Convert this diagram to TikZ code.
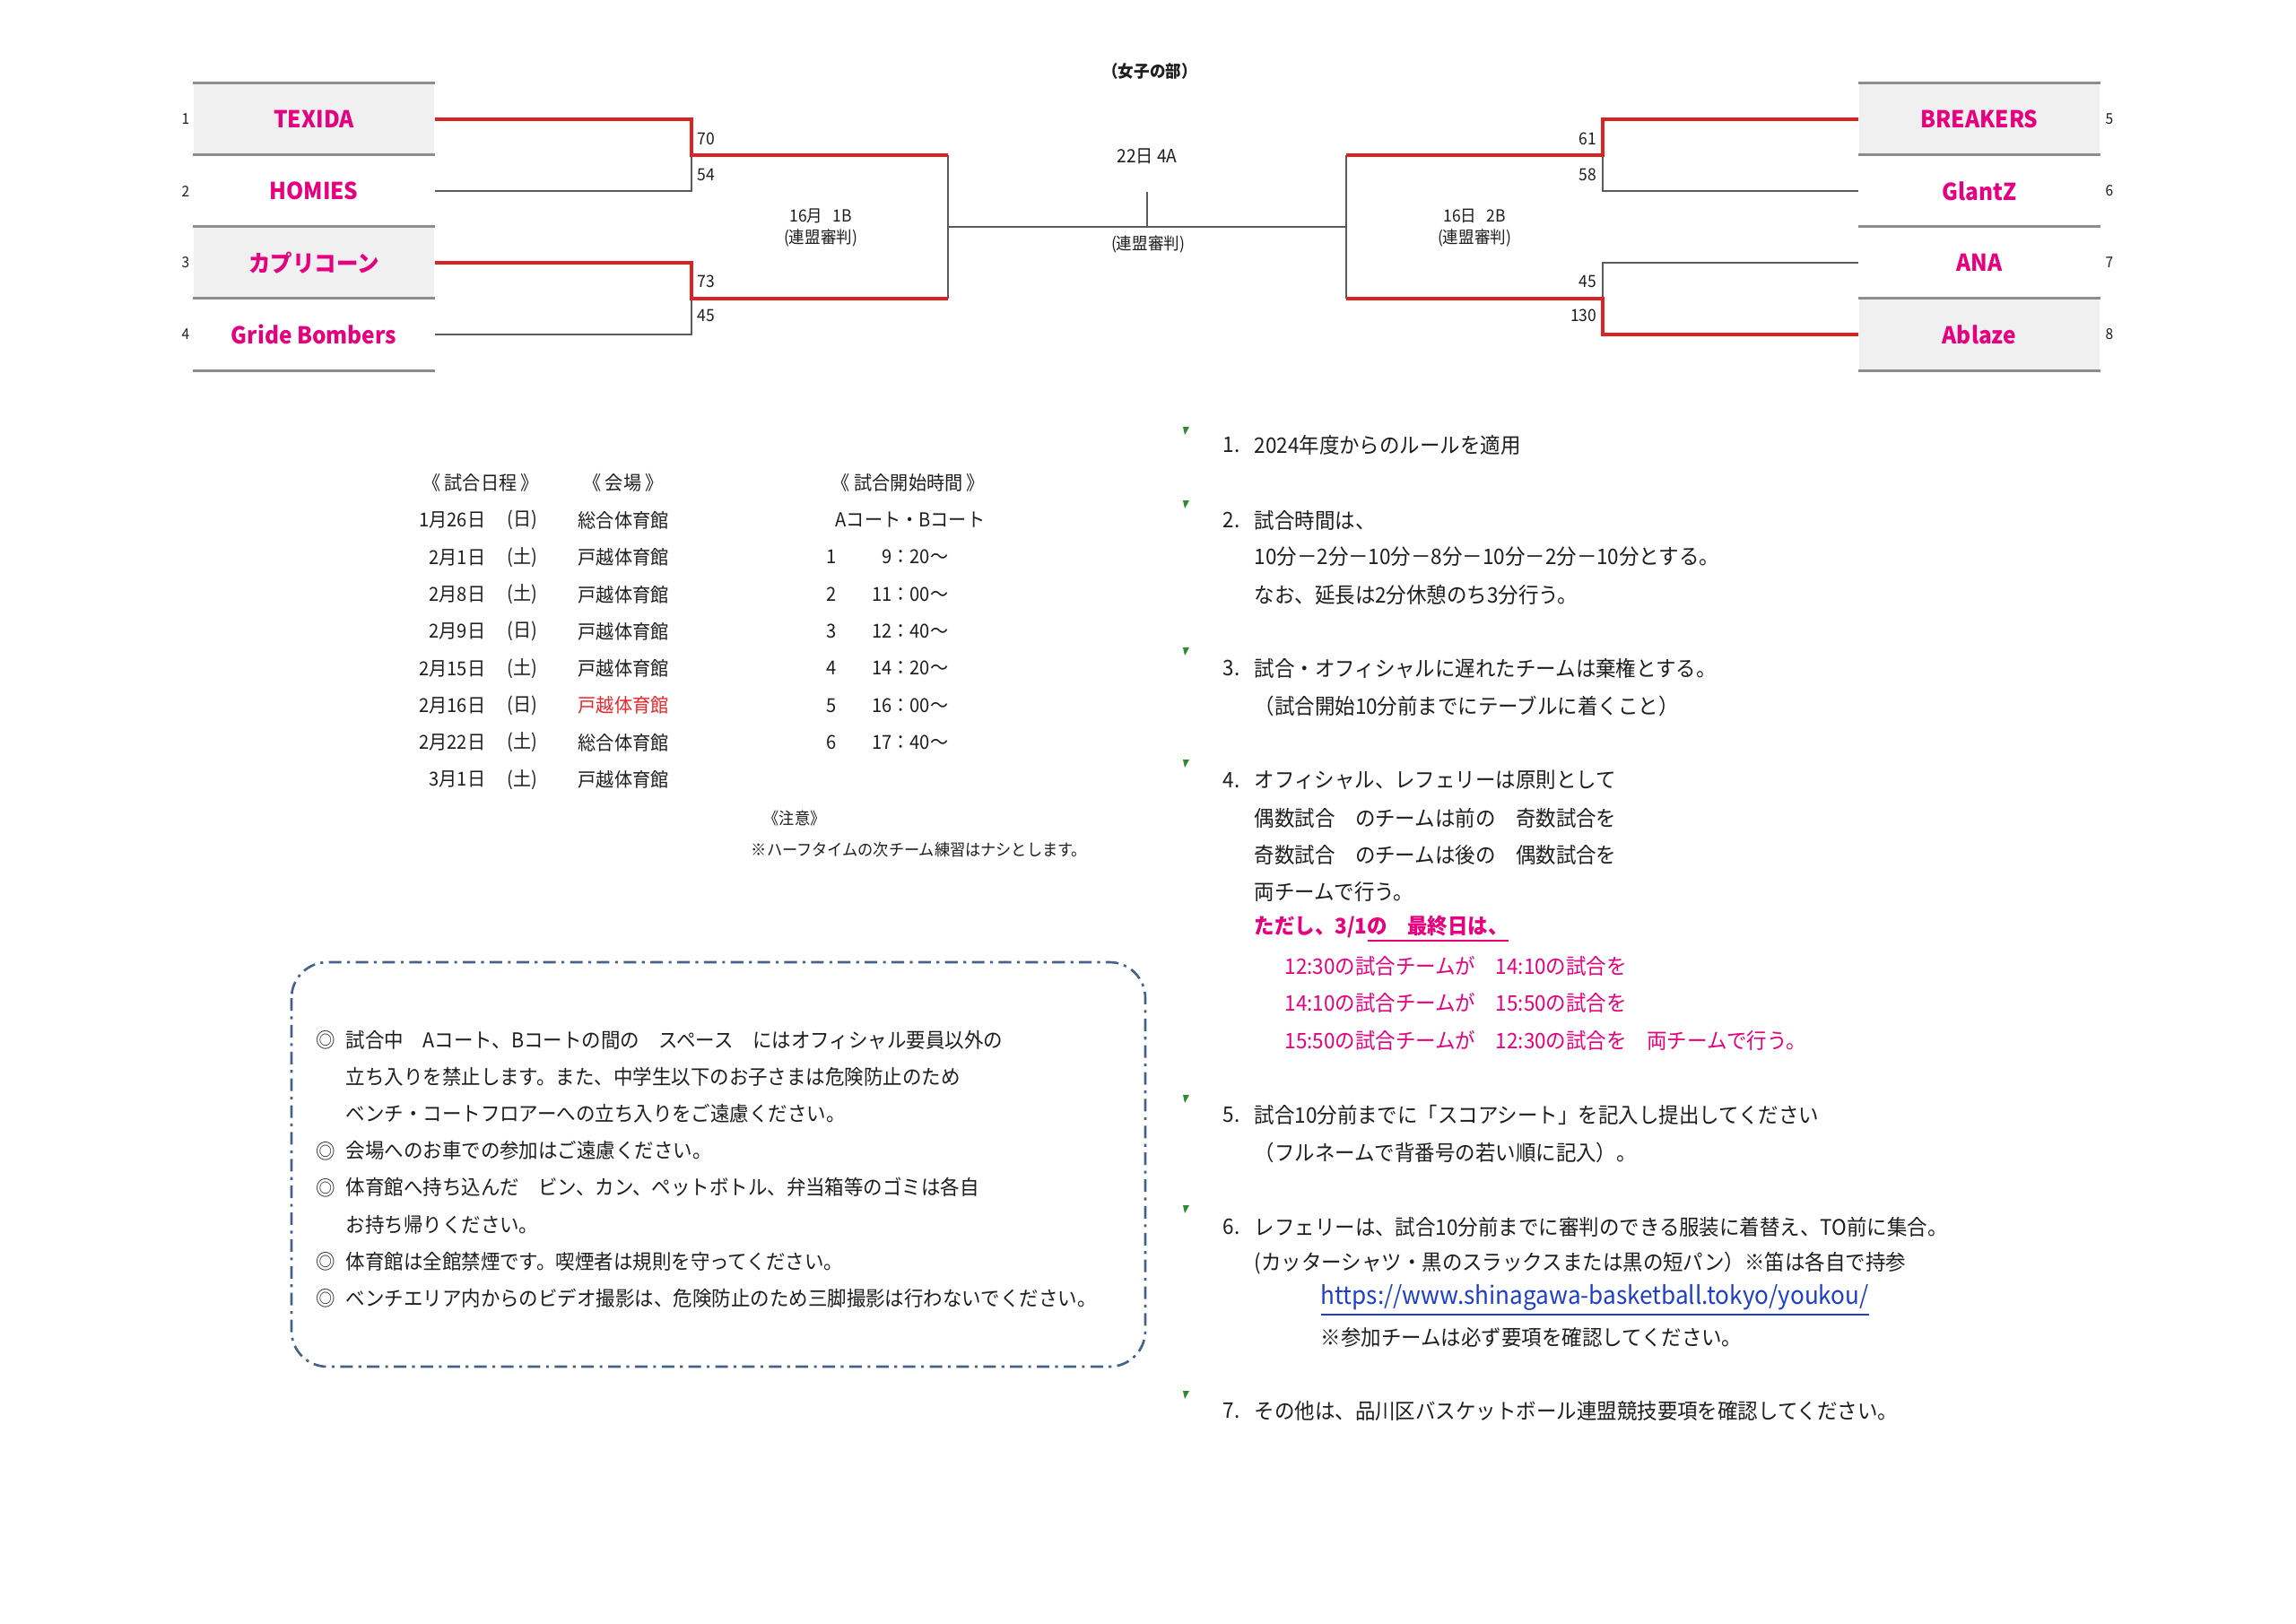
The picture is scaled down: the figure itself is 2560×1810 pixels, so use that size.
\documentclass[tikz,border=0pt]{standalone}
\usepackage{fontspec}
\setmainfont{Noto Sans CJK JP}[FakeStretch=0.94]

\definecolor{teampink}{HTML}{E4007F}
\definecolor{winred}{HTML}{DD2222}
\definecolor{boxgray}{HTML}{F0F0F0}
\definecolor{rulegray}{HTML}{5A5A5A}
\definecolor{inkc}{HTML}{1E1E1E}
\definecolor{venuered}{HTML}{E8262B}
\definecolor{notepink}{HTML}{E6007E}
\definecolor{linkblue}{HTML}{1F3FC8}
\definecolor{dashblue}{HTML}{44618A}
\definecolor{tickgreen}{HTML}{2E8B2E}

\tikzset{
  team/.style={minimum width=26.8mm, minimum height=8mm, inner sep=0pt, text=teampink,
    font=\fontsize{7.4pt}{8pt}\selectfont\bfseries},
  teamgray/.style={team, fill=boxgray},
  seed/.style={inner sep=0pt, text=inkc, font=\fontsize{4.7pt}{5pt}\selectfont},
  score/.style={inner sep=0pt, text=inkc, font=\fontsize{5.3pt}{6pt}\selectfont},
  lbl/.style={inner sep=0pt, text=inkc, font=\fontsize{5.3pt}{6pt}\selectfont},
  lose/.style={draw=rulegray, line width=0.55pt},
  win/.style={draw=winred, line width=1.1pt},
  boxline/.style={draw=gray!90, line width=0.8pt},
  tab/.style={inner sep=0pt, text=inkc, font=\fontsize{6.1pt}{7pt}\selectfont},
  body/.style={inner sep=0pt, anchor=west, text=inkc, font=\fontsize{6.8pt}{8pt}\selectfont},
  notetxt/.style={body, font=\fontsize{6.5pt}{8pt}\selectfont},
}

\begin{document}
\begin{tikzpicture}[x=0.1mm, y=-0.1mm]
  \useasboundingbox (0,0) rectangle (2560,1810);
  \fill[white] (0,0) rectangle (2560,1810);

  % bracket
  \node[inner sep=0pt, text=inkc, font=\fontsize{5.3pt}{6pt}\selectfont\bfseries] (title) at (1282,79) {（女子の部）};
  \node[teamgray] (t1) at (350,133) {TEXIDA};
  \node[team] (t2) at (350,213) {HOMIES};
  \node[teamgray] (t3) at (350,293) {カプリコーン};
  \node[team] (t4) at (350,373) {Gride Bombers};
  \node[teamgray] (t5) at (2207,133) {BREAKERS};
  \node[team] (t6) at (2207,213) {GlantZ};
  \node[team] (t7) at (2207,293) {ANA};
  \node[teamgray] (t8) at (2207,373) {Ablaze};
  \foreach \t in {1,...,8} \draw[boxline] (t\t.north west) -- (t\t.north east);
  \draw[boxline] (t4.south west) -- (t4.south east);
  \draw[boxline] (t8.south west) -- (t8.south east);
  \foreach \t in {1,...,4} \node[seed] (n\t) at (207,53+80*\t) {\t};
  \foreach \t in {5,...,8} \node[seed] (n\t) at (2352,53+80*\t-320) {\t};

  \coordinate (m1) at (771,173);
  \coordinate (m2) at (771,333);
  \coordinate (m3) at (1787,173);
  \coordinate (m4) at (1787,333);
  \coordinate (s1) at (1057,173);
  \coordinate (s2) at (1057,333);
  \coordinate (s3) at (1501,173);
  \coordinate (s4) at (1501,333);
  \coordinate (f1) at (1057,253);
  \coordinate (f2) at (1501,253);
  \coordinate (ftop) at (1279,214);
  \coordinate (fmid) at (1279,253);
  \draw[lose] (t2.east) -| (m1);
  \draw[lose] (t4.east) -| (m2);
  \draw[lose] (t6.west) -| (m3);
  \draw[lose] (t7.west) -| (m4);
  \draw[lose] (s1) -- (s2);
  \draw[lose] (s3) -- (s4);
  \draw[lose] (f1) -- (f2);
  \draw[lose] (ftop) -- (fmid);
  \draw[win] (t1.east) -| (m1) -- (s1);
  \draw[win] (t3.east) -| (m2) -- (s2);
  \draw[win] (t5.west) -| (m3) -- (s3);
  \draw[win] (t8.west) -| (m4) -- (s4);

  \node[score, anchor=west] (sc1) at (777,155) {70};
  \node[score, anchor=west] (sc2) at (777,195) {54};
  \node[score, anchor=west] (sc3) at (777,314) {73};
  \node[score, anchor=west] (sc4) at (777,352) {45};
  \node[score, anchor=east] (sc5) at (1781,155) {61};
  \node[score, anchor=east] (sc6) at (1781,195) {58};
  \node[score, anchor=east] (sc7) at (1781,314) {45};
  \node[score, anchor=east] (sc8) at (1781,352) {130};

  \node[lbl] (g1) at (915,241) {16月\hspace{0.6em}1B};
  \node[lbl] (g1r) at (915,265) {(連盟審判)};
  \node[lbl] (g2) at (1644,241) {16日\hspace{0.6em}2B};
  \node[lbl] (g2r) at (1644,265) {(連盟審判)};
  \node[lbl, font=\fontsize{5.8pt}{6pt}\selectfont] (g3) at (1279,174) {22日 4A};
  \node[lbl] (g3r) at (1280,272) {(連盟審判)};

  % schedule
  \node[tab] (h1) at (536,538) {《 試合日程 》};
  \node[tab] (h2) at (695,538) {《 会場 》};
  \node[tab] (h3) at (1013,538) {《 試合開始時間 》};
  \node[tab] (court) at (1015,580) {Aコート・Bコート};
  \foreach \d/\w/\v/\c [count=\i] in {1月26日/日/総合体育館/inkc, 2月1日/土/戸越体育館/inkc,
      2月8日/土/戸越体育館/inkc, 2月9日/日/戸越体育館/inkc, 2月15日/土/戸越体育館/inkc,
      2月16日/日/戸越体育館/venuered, 2月22日/土/総合体育館/inkc, 3月1日/土/戸越体育館/inkc} {
    \node[tab, anchor=east] (d\i) at (542,539+41.3*\i) {\d};
    \node[tab, anchor=west] (w\i) at (565,539+41.3*\i) {(\w)};
    \node[tab, anchor=west, text=\c] (v\i) at (644,539+41.3*\i) {\v};
  }
  \foreach \tm [count=\i] in {9：20～, 11：00～, 12：40～, 14：20～, 16：00～, 17：40～} {
    \node[tab] (k\i) at (927,580+41.3*\i) {\i};
    \node[tab, anchor=east] (tm\i) at (1058,580+41.3*\i) {\tm};
  }
  \node[tab, font=\fontsize{5.2pt}{6pt}\selectfont] (caution) at (886,913) {《注意》};
  \node[tab, font=\fontsize{5.2pt}{6pt}\selectfont] (half) at (1025,948) {※ハーフタイムの次チーム練習はナシとします。};

  % notes box
  \draw[dashblue, line width=0.75pt, rounded corners=4mm,
    dash pattern=on 4pt off 1.8pt on 0.9pt off 1.8pt] (325,1073) rectangle (1277,1524);
  \foreach \i in {1,4,5,7,8} \node[notetxt, anchor=center] (bm\i) at (363,1119+41.1*\i) {◎};
  \node[notetxt] (b1) at (385,1160) {試合中　Aコート、Bコートの間の　スペース　にはオフィシャル要員以外の};
  \node[notetxt] (b2) at (385,1201) {立ち入りを禁止します。また、中学生以下のお子さまは危険防止のため};
  \node[notetxt] (b3) at (385,1242) {ベンチ・コートフロアーへの立ち入りをご遠慮ください。};
  \node[notetxt] (b4) at (385,1283) {会場へのお車での参加はご遠慮ください。};
  \node[notetxt] (b5) at (385,1324) {体育館へ持ち込んだ　ビン、カン、ペットボトル、弁当箱等のゴミは各自};
  \node[notetxt] (b6) at (385,1366) {お持ち帰りください。};
  \node[notetxt] (b7) at (385,1407) {体育館は全館禁煙です。喫煙者は規則を守ってください。};
  \node[notetxt] (b8) at (385,1448) {ベンチエリア内からのビデオ撮影は、危険防止のため三脚撮影は行わないでください。};

  % rules list
  \foreach \y in {480,562,726,851,1225,1348,1555}
    \fill[tickgreen] (1319,\y-4) -- (1326,\y-4) -- (1321,\y+5) -- cycle;
  \foreach \n/\y in {1/496, 2/580, 3/745, 4/870, 5/1243, 6/1368, 7/1573}
    \node[body] (num\n) at (1363,\y) {\n.};
  \node[body] (l1) at (1398,496) {2024年度からのルールを適用};
  \node[body] (l2a) at (1398,580) {試合時間は、};
  \node[body] (l2b) at (1398,621) {10分－2分－10分－8分－10分－2分－10分とする。};
  \node[body] (l2c) at (1398,663) {なお、延長は2分休憩のち3分行う。};
  \node[body] (l3a) at (1398,745) {試合・オフィシャルに遅れたチームは棄権とする。};
  \node[body] (l3b) at (1398,787) {（試合開始10分前までにテーブルに着くこと）};
  \node[body] (l4a) at (1398,870) {オフィシャル、レフェリーは原則として};
  \node[body] (l4b) at (1398,912) {偶数試合　のチームは前の　奇数試合を};
  \node[body] (l4c) at (1398,953) {奇数試合　のチームは後の　偶数試合を};
  \node[body] (l4d) at (1398,994) {両チームで行う。};
  \node[body, text=notepink, font=\fontsize{6.8pt}{8pt}\selectfont\bfseries] (l4e) at (1398,1036) {ただし、3/1\underline{の　最終日は、}};
  \node[body, text=notepink] (l4f) at (1432,1077) {12:30の試合チームが　14:10の試合を};
  \node[body, text=notepink] (l4g) at (1432,1118) {14:10の試合チームが　15:50の試合を};
  \node[body, text=notepink] (l4h) at (1432,1160) {15:50の試合チームが　12:30の試合を　両チームで行う。};
  \node[body] (l5a) at (1398,1243) {試合10分前までに「スコアシート」を記入し提出してください};
  \node[body] (l5b) at (1398,1285) {（フルネームで背番号の若い順に記入）。};
  \node[body] (l6a) at (1398,1368) {レフェリーは、試合10分前までに審判のできる服装に着替え、TO前に集合。};
  \node[body] (l6b) at (1398,1409) {(カッターシャツ・黒のスラックスまたは黒の短パン）※笛は各自で持参};
  \node[body, text=linkblue, font=\fontsize{7.9pt}{9pt}\selectfont] (url) at (1472,1450) {\underline{https://www.shinagawa-basketball.tokyo/youkou/}};
  \node[body] (l6d) at (1472,1491) {※参加チームは必ず要項を確認してください。};
  \node[body] (l7) at (1398,1573) {その他は、品川区バスケットボール連盟競技要項を確認してください。};
\end{tikzpicture}
\end{document}
